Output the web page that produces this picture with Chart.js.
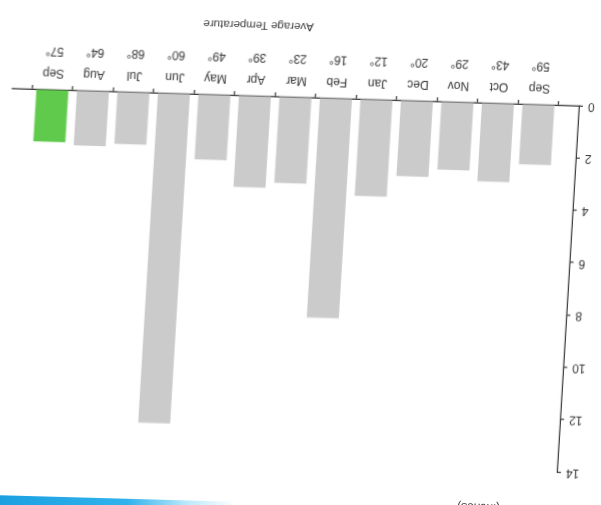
<!DOCTYPE html>
<html>
<head>
<meta charset="utf-8">
<script src="https://cdn.jsdelivr.net/npm/chart.js@4.4.1/dist/chart.umd.min.js"></script>
<style>
  html, body { margin:0; padding:0; background:#ffffff; }
  body { width:601px; height:505px; overflow:hidden; position:relative; }
  #wrap { position:absolute; left:0; top:0; width:601px; height:505px;
          transform-origin:0 0;
          transform:matrix(-1, -0.0307, 0.0601, -1.0008, 576.9, 507.7); }
  #c { position:absolute; left:0; top:0; }
  .txt { position:absolute; font-family:'Liberation Sans', Arial, sans-serif; color:#3a3a3a; white-space:nowrap; line-height:1; }
  #title { font-size:11.5px; left:346.7px; top:465.5px; transform:translateX(-50%); }
  #unit { font-size:12px; left:77px; top:-9px; }
  #streak { position:absolute; left:-5px; top:495px; width:240px; height:14px;
            background:linear-gradient(to right, #1b9fe0 0%, #2fb2ec 55%, rgba(120,210,245,0.5) 80%, rgba(255,255,255,0) 100%);
            transform:rotate(1.6deg); transform-origin:0 0; }
</style>
</head>
<body>
<div id="wrap">
  <canvas id="c" width="601" height="505"></canvas>
  <div class="txt" id="title">Average Temperature</div>
  <div class="txt" id="unit">(inches)</div>
</div>
<div id="streak"></div>
<script>
const months = ['Sep','Oct','Nov','Dec','Jan','Feb','Mar','Apr','May','Jun','Jul','Aug','Sep'];
const temps = [59, 43, 29, 20, 12, 16, 23, 39, 49, 60, 68, 64, 57];
const values = [2.3, 3.0, 2.6, 2.9, 3.7, 8.4, 3.3, 3.5, 2.5, 12.6, 2.0, 2.1, 2.0];
const yTicks = [0, 2, 4, 6, 8, 10, 12, 14];

const GRAY = '#cbcbcb';
const GREEN = '#5fca4b';
const INK = '#333333';
const FONT = "'Liberation Sans', Arial, sans-serif";

const barColors = values.map((v, i) => i === values.length - 1 ? GREEN : GRAY);
const points = values.map((v, i) => ({ x: i, y: v }));

new Chart(document.getElementById('c'), {
  type: 'bar',
  data: {
    datasets: [{
      data: points,
      backgroundColor: barColors,
      borderWidth: 0,
      barPercentage: 0.79,
      categoryPercentage: 1
    }]
  },
  options: {
    responsive: false,
    animation: false,
    layout: { padding: { left: 0, right: 12, top: 35, bottom: 0 } },
    plugins: { legend: { display: false }, tooltip: { enabled: false }, title: { display: false } },
    scales: {
      x: {
        type: 'linear',
        min: -1,
        max: 13,
        offset: false,
        afterFit(s) { s.height = 104; },
        afterBuildTicks(s) {
          const t = [];
          for (let i = -1; i <= months.length; i++) t.push({ value: i });
          s.ticks = t;
        },
        ticks: {
          autoSkip: false,
          maxRotation: 0,
          minRotation: 0,
          padding: 2,
          color: INK,
          font: { family: FONT, size: 12, lineHeight: 1.8 },
          callback: (v) => (v >= 0 && v < months.length) ? [months[v], temps[v] + '°'] : ''
        },
        grid: { display: true, drawOnChartArea: false, drawTicks: true, tickLength: 4, color: INK, lineWidth: 1.2 },
        border: { display: true, color: INK, width: 1.2 }
      },
      y: {
        min: 0,
        max: 14,
        afterFit(s) { s.width = 22; },
        afterBuildTicks(s) { s.ticks = yTicks.map(v => ({ value: v })); },
        ticks: {
          autoSkip: false,
          padding: 5,
          color: INK,
          font: { family: FONT, size: 12 }
        },
        grid: { display: true, drawOnChartArea: false, drawTicks: true, tickLength: 4, color: INK, lineWidth: 1.2 },
        border: { display: true, color: INK, width: 1.2 }
      }
    }
  }
});
</script>
</body>
</html>
